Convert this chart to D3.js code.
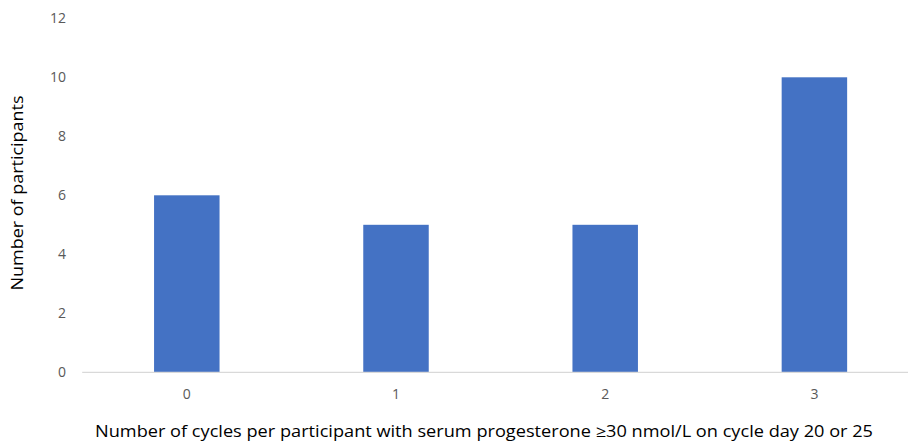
<!DOCTYPE html>
<html><head><meta charset="utf-8">
<script src="https://cdn.jsdelivr.net/npm/d3@7"></script>
<style>body{margin:0;background:#fff}svg{display:block}</style>
</head><body>
<svg id="c" width="908" height="442"></svg>
<script>
const categories = ["0", "1", "2", "3"];
const values = [6, 5, 5, 10];
const yTicks = [0, 2, 4, 6, 8, 10, 12];
const xTitle = "Number of cycles per participant with serum progesterone \u226530 nmol/L on cycle day 20 or 25";
const yTitle = "Number of participants";

const svg = d3.select("#c");
const font = "'Open Sans', sans-serif";
const x = d3.scaleBand().domain(categories).range([82.2, 919]).paddingInner(0.687).paddingOuter(0.3435);
const y = d3.scaleLinear().domain([0, 12]).range([372.3, 18.3]);

// y tick labels
svg.append("g").selectAll("text").data(yTicks).join("text")
  .attr("x", 66).attr("y", d => y(d)).attr("dy", "0.35em")
  .attr("text-anchor", "end").attr("fill", "#595959")
  .style("font-family", font).style("font-size", "14px")
  .text(d => d);

// bars
svg.append("g").selectAll("rect").data(values).join("rect")
  .attr("x", (d, i) => x(categories[i])).attr("width", x.bandwidth())
  .attr("y", d => y(d)).attr("height", d => y(0) - y(d))
  .attr("fill", "#4472c4");

// x axis line
svg.append("line").attr("x1", 82.2).attr("x2", 919).attr("y1", y(0)).attr("y2", y(0))
  .attr("stroke", "#d9d9d9").attr("stroke-width", 1.2);

// x tick labels
svg.append("g").selectAll("text").data(categories).join("text")
  .attr("x", d => x(d) + x.bandwidth() / 2).attr("y", 394).attr("dy", "0.35em")
  .attr("text-anchor", "middle").attr("fill", "#595959")
  .style("font-family", font).style("font-size", "14px")
  .text(d => d);

// titles
svg.append("text").attr("x", 484).attr("y", 437)
  .attr("text-anchor", "middle").attr("fill", "#000")
  .attr("textLength", 778).attr("lengthAdjust", "spacingAndGlyphs")
  .style("font-family", font).style("font-size", "16px").text(xTitle);
svg.append("text").attr("transform", "translate(23,193) rotate(-90)")
  .attr("text-anchor", "middle").attr("fill", "#000")
  .attr("textLength", 195).attr("lengthAdjust", "spacingAndGlyphs")
  .style("font-family", font).style("font-size", "16px").text(yTitle);
</script>
</body></html>
